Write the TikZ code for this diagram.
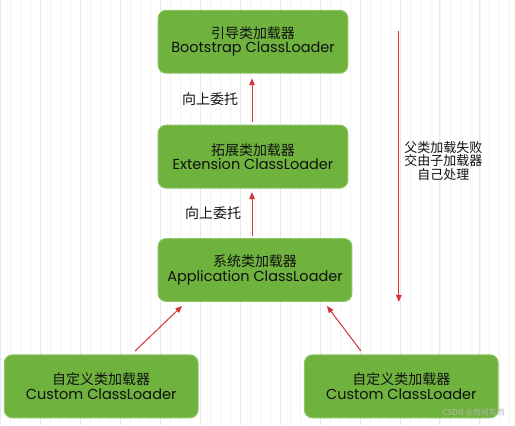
\documentclass[tikz,border=0pt]{standalone}
\usepackage{fontspec}
\setmainfont{Poppins}
\newfontfamily\cjk{Noto Sans CJK SC}
\usetikzlibrary{arrows.meta}
\definecolor{boxgreen}{HTML}{6FB23E}
\definecolor{boxedge}{HTML}{8CC665}
\definecolor{arrred}{HTML}{D8333B}
\definecolor{txt}{HTML}{111111}
\definecolor{gridminor}{HTML}{F3F3F3}
\definecolor{gridmajor}{HTML}{E8E8E8}
\begin{document}
\begin{tikzpicture}[x=1pt,y=-1pt,
  loader/.style={draw=boxedge, line width=1pt, fill=boxgreen, rounded corners=8pt,
    minimum width=#1, minimum height=63pt, inner sep=0pt, align=center,
    text=txt, font=\fontsize{14.5}{15}\selectfont},
  loader/.default=190pt,
  upar/.style={draw=arrred, line width=1pt, -{Triangle[length=7pt,width=5.5pt]}},
  lbl/.style={text=txt, font=\cjk\fontsize{14}{16}\selectfont, inner sep=0pt, align=center}]
\fill[white] (0,0) rectangle (515,425);
\draw[gridminor, line width=0.5pt, step=10] (0,0) grid (515,425);
\draw[gridmajor, line width=0.6pt, step=40] (0,0) grid (515,425);
\useasboundingbox (0,0) rectangle (515,425);
\node[loader] (boot) at (253,41.5) {{\cjk\fontsize{14}{15}\selectfont 引导类加载器}\\[-0.5pt]Bootstrap ClassLoader};
\node[loader] (ext) at (253,156.5) {{\cjk\fontsize{14}{15}\selectfont 拓展类加载器}\\[-0.5pt]Extension ClassLoader};
\node[loader=194pt] (app) at (255,270) {{\cjk\fontsize{14}{15}\selectfont 系统类加载器}\\[-0.5pt]Application ClassLoader};
\node[loader=194pt] (c1) at (101,386.5) {{\cjk\fontsize{14}{15}\selectfont 自定义类加载器}\\[-0.5pt]Custom ClassLoader};
\node[loader=194pt] (c2) at (401.5,386.5) {{\cjk\fontsize{14}{15}\selectfont 自定义类加载器}\\[-0.5pt]Custom ClassLoader};
\coordinate (e1) at (252,122);
\coordinate (e2) at (252,78);
\draw[upar] (e1) -- (e2);
\coordinate (a1) at (252,236);
\coordinate (a2) at (252,192);
\draw[upar] (a1) -- (a2);
\coordinate (l1) at (135,351);
\coordinate (l2) at (182,306);
\draw[upar] (l1) -- (l2);
\coordinate (r1) at (361,351);
\coordinate (r2) at (327,306);
\draw[upar] (r1) -- (r2);
\coordinate (d1) at (399,31);
\coordinate (d2) at (399,302);
\draw[upar] (d1) -- (d2);
\node[lbl] (u1) at (210,99) {向上委托};
\node[lbl] (u2) at (213,213) {向上委托};
\node[lbl, font=\cjk\fontsize{13}{13.5}\selectfont] (fail) at (443.5,160.5) {父类加载失败\\交由子加载器\\自己处理};
\node[text=gray!55, font=\cjk\fontsize{8}{9}\selectfont, inner sep=0pt] (wm) at (474,413) {CSDN @勿问东西};
\end{tikzpicture}
\end{document}
